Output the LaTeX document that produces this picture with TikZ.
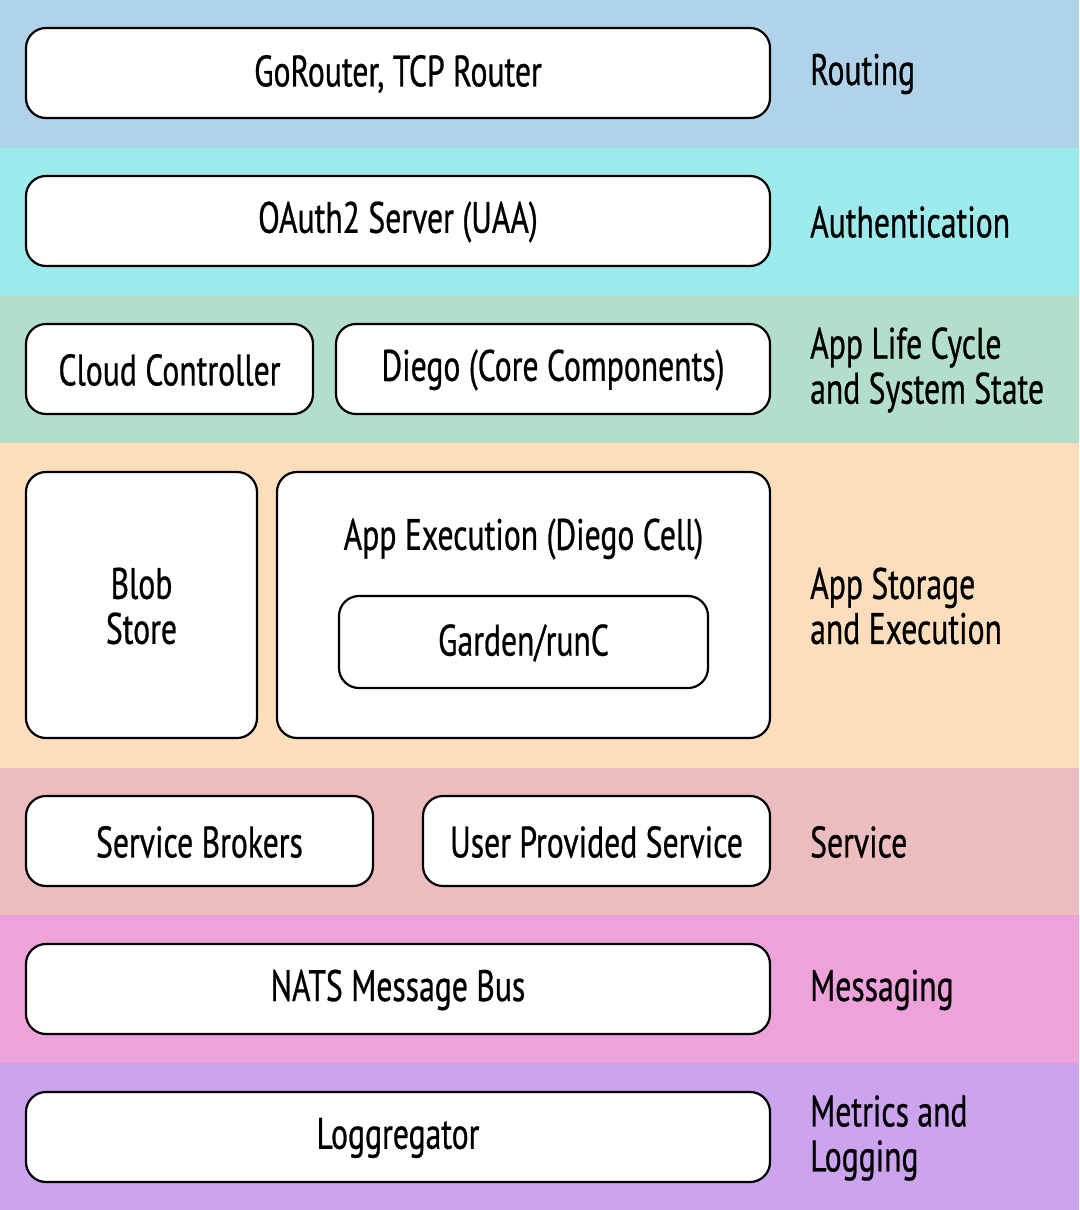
\documentclass[tikz,border=0pt]{standalone}
\usepackage{fontspec}
\setmainfont[FakeStretch=0.72, FakeBold=0.6]{PT Sans}
\definecolor{cRout}{HTML}{B1D3EA}
\definecolor{cAuth}{HTML}{9DEAEC}
\definecolor{cLife}{HTML}{B2DFC9}
\definecolor{cStor}{HTML}{FDDEBC}
\definecolor{cServ}{HTML}{EBBDBE}
\definecolor{cMsg}{HTML}{EDA2D9}
\definecolor{cMet}{HTML}{CBA3EE}
\tikzset{
  comp/.style={draw=black, line width=2.2pt, fill=white, rounded corners=20pt},
  txt/.style={font=\fontsize{44}{45}\selectfont, inner sep=0pt, text=black},
  lbl/.style={txt, anchor=west, align=left},
}
\begin{document}
\begin{tikzpicture}[x=1pt,y=-1pt]
\useasboundingbox (0,0) rectangle (1079,1210);
% bands
\fill[cRout] (0,0) rectangle (1079,148);
\fill[cAuth] (0,148) rectangle (1079,295);
\fill[cLife] (0,295) rectangle (1079,443);
\fill[cStor] (0,443) rectangle (1079,768);
\fill[cServ] (0,768) rectangle (1079,915);
\fill[cMsg] (0,915) rectangle (1079,1063);
\fill[cMet] (0,1063) rectangle (1079,1210);
% boxes
\draw[comp] (26,28) rectangle (770,118);
\node[txt] (gor) at (398,74) {GoRouter, TCP Router};
\draw[comp] (26,176) rectangle (770,266);
\node[txt] (uaa) at (398,222) {OAuth2 Server (UAA)};
\draw[comp] (26,324) rectangle (313,414);
\node[txt] (cc) at (169.5,370) {Cloud Controller};
\draw[comp] (336,324) rectangle (770,414);
\node[txt] (diego) at (553,370) {Diego (Core Components)};
\draw[comp] (26,472) rectangle (257,738);
\node[txt, align=center] (blob) at (141.5,606) {Blob\\Store};
\draw[comp] (277,472) rectangle (770,738);
\node[txt] (exec) at (523.5,539) {App Execution (Diego Cell)};
\draw[comp] (339,596) rectangle (708,688);
\node[txt] (garden) at (523.5,643) {Garden/runC};
\draw[comp] (26,796) rectangle (373,886);
\node[txt] (sb) at (199.5,842) {Service Brokers};
\draw[comp] (423,796) rectangle (770,886);
\node[txt] (ups) at (596.5,842) {User Provided Service};
\draw[comp] (26,944) rectangle (770,1034);
\node[txt] (nats) at (398,990) {NATS Message Bus};
\draw[comp] (26,1092) rectangle (770,1182);
\node[txt] (log) at (398,1138) {Loggregator};
% layer labels
\node[lbl] (lrout) at (810,74) {Routing};
\node[lbl] (lauth) at (810,222) {Authentication};
\node[lbl] (llife) at (810,370) {App Life Cycle\\and System State};
\node[lbl] (lstor) at (810,606) {App Storage\\and Execution};
\node[lbl] (lserv) at (810,842) {Service};
\node[lbl] (lmsg) at (810,990) {Messaging};
\node[lbl] (lmet) at (810,1138) {Metrics and\\Logging};
\end{tikzpicture}
\end{document}
